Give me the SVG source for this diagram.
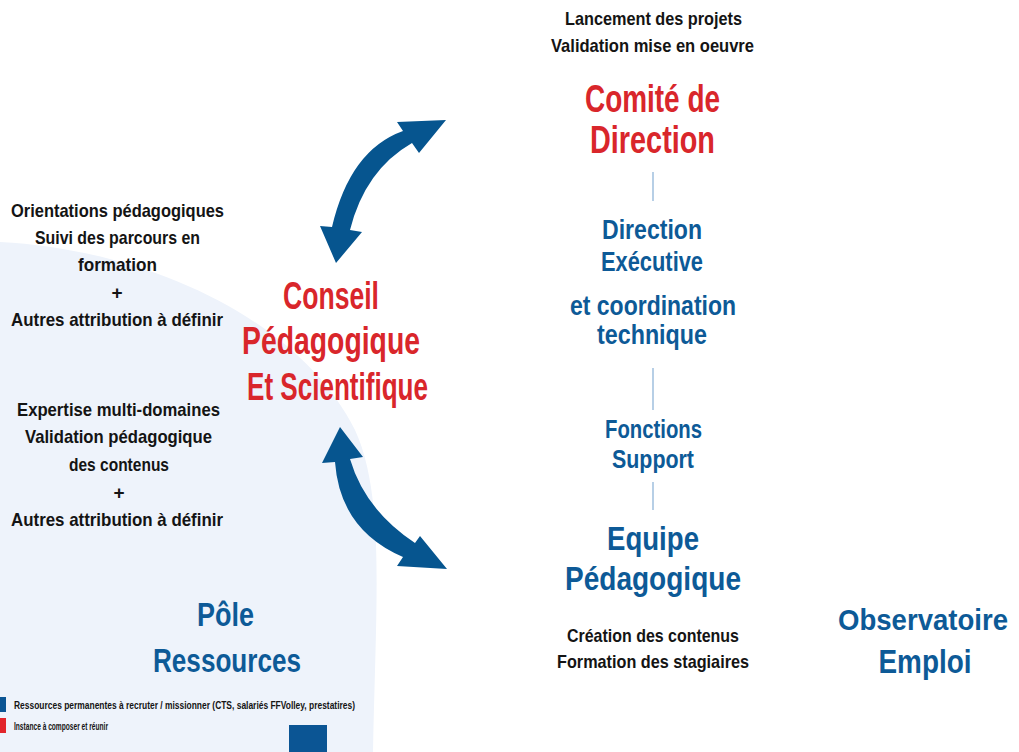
<svg xmlns="http://www.w3.org/2000/svg" width="1019" height="752" viewBox="0 0 1019 752">
<style>
text{font-family:"Liberation Sans Narrow","Liberation Sans",Arial,sans-serif;font-weight:bold;text-anchor:middle}
.k{fill:#141414;font-size:19px}
.r{fill:#d9262b}
.b{fill:#0d5a97}
.l{fill:#141414;font-size:10px;text-anchor:start}
.arrow{fill:#06558f}
.link{stroke:#b7cfe6;stroke-width:2;fill:none}
</style>
<rect width="1019" height="752" fill="#ffffff"/>
<path id="pole-bg" d="M0,242 C150,250 300,320 355,430 C385,495 376,600 373,752 L0,752 Z" fill="#eef3fb"/>

<g id="connectors">
<path class="link" d="M653,172 V201"/>
<path class="link" d="M653,368 V410"/>
<path class="link" d="M653,482 V510"/>
<path class="arrow" d="M446,120 L397,122 L403,131 Q350,150 332,227 L320,226 L336,263 L362,232 L350,230 Q365,170 412,143 L419,153 Z"/>
<path class="arrow" d="M340,427 L322,463 L335,462 Q340,530 403,557 L397,566 L447,569 L420,536 L415,543 Q365,510 350,459 L363,457 Z"/>
</g>

<g id="comite">
<text class="k" x="653.5" y="25" textLength="177" lengthAdjust="spacingAndGlyphs">Lancement des projets</text>
<text class="k" x="652.5" y="52" textLength="203" lengthAdjust="spacingAndGlyphs">Validation mise en oeuvre</text>
<text class="r" x="652.5" y="112" font-size="38" textLength="135" lengthAdjust="spacingAndGlyphs">Comité de</text>
<text class="r" x="652.5" y="153" font-size="38" textLength="125" lengthAdjust="spacingAndGlyphs">Direction</text>
</g>

<g id="direction">
<text class="b" x="652" y="239" font-size="27" textLength="100" lengthAdjust="spacingAndGlyphs">Direction</text>
<text class="b" x="652" y="271" font-size="27" textLength="102" lengthAdjust="spacingAndGlyphs">Exécutive</text>
<text class="b" x="653" y="315" font-size="27" textLength="166" lengthAdjust="spacingAndGlyphs">et coordination</text>
<text class="b" x="652" y="344" font-size="27" textLength="110" lengthAdjust="spacingAndGlyphs">technique</text>
</g>

<g id="fonctions">
<text class="b" x="653.5" y="438" font-size="26" textLength="97" lengthAdjust="spacingAndGlyphs">Fonctions</text>
<text class="b" x="653" y="468" font-size="26" textLength="82" lengthAdjust="spacingAndGlyphs">Support</text>
</g>

<g id="equipe">
<text class="b" x="653" y="550" font-size="34" textLength="92" lengthAdjust="spacingAndGlyphs">Equipe</text>
<text class="b" x="653" y="590" font-size="34" textLength="176" lengthAdjust="spacingAndGlyphs">Pédagogique</text>
<text class="k" x="653" y="642" textLength="172" lengthAdjust="spacingAndGlyphs">Création des contenus</text>
<text class="k" x="653" y="668" textLength="192" lengthAdjust="spacingAndGlyphs">Formation des stagiaires</text>
</g>

<g id="observatoire">
<text class="b" x="923" y="630" font-size="30" textLength="170" lengthAdjust="spacingAndGlyphs">Observatoire</text>
<text class="b" x="925" y="673" font-size="34" textLength="93" lengthAdjust="spacingAndGlyphs">Emploi</text>
</g>

<g id="conseil">
<text class="r" x="331" y="309" font-size="38" textLength="96" lengthAdjust="spacingAndGlyphs">Conseil</text>
<text class="r" x="331" y="354" font-size="38" textLength="178" lengthAdjust="spacingAndGlyphs">Pédagogique</text>
<text class="r" x="337.5" y="400" font-size="38" textLength="181" lengthAdjust="spacingAndGlyphs">Et Scientifique</text>
</g>

<g id="orientations">
<text class="k" x="117.5" y="217" textLength="213" lengthAdjust="spacingAndGlyphs">Orientations pédagogiques</text>
<text class="k" x="117.5" y="244" textLength="165" lengthAdjust="spacingAndGlyphs">Suivi des parcours en</text>
<text class="k" x="117.5" y="271" textLength="79" lengthAdjust="spacingAndGlyphs">formation</text>
<text class="k" x="117" y="299" font-weight="normal">+</text>
<text class="k" x="117" y="326" textLength="212" lengthAdjust="spacingAndGlyphs">Autres attribution à définir</text>
</g>

<g id="expertise">
<text class="k" x="118.5" y="416" textLength="203" lengthAdjust="spacingAndGlyphs">Expertise multi-domaines</text>
<text class="k" x="118.5" y="443" textLength="187" lengthAdjust="spacingAndGlyphs">Validation pédagogique</text>
<text class="k" x="119" y="471" textLength="100" lengthAdjust="spacingAndGlyphs">des contenus</text>
<text class="k" x="119" y="499" font-weight="normal">+</text>
<text class="k" x="117" y="526" textLength="212" lengthAdjust="spacingAndGlyphs">Autres attribution à définir</text>
</g>

<g id="pole">
<text class="b" x="225.5" y="626" font-size="34" textLength="57" lengthAdjust="spacingAndGlyphs">Pôle</text>
<text class="b" x="227" y="672" font-size="34" textLength="148" lengthAdjust="spacingAndGlyphs">Ressources</text>
</g>

<g id="legend">
<rect x="0" y="697" width="6" height="15" fill="#0b5594"/>
<rect x="0" y="718" width="6" height="15" fill="#e2252b"/>
<text class="l" x="14" y="709" textLength="341" lengthAdjust="spacingAndGlyphs">Ressources permanentes à recruter / missionner (CTS, salariés FFVolley, prestatires)</text>
<text class="l" x="14" y="730" textLength="94" lengthAdjust="spacingAndGlyphs">Instance à composer et réunir</text>
<rect x="289" y="725" width="38" height="27" fill="#0b5594"/>
</g>
</svg>
